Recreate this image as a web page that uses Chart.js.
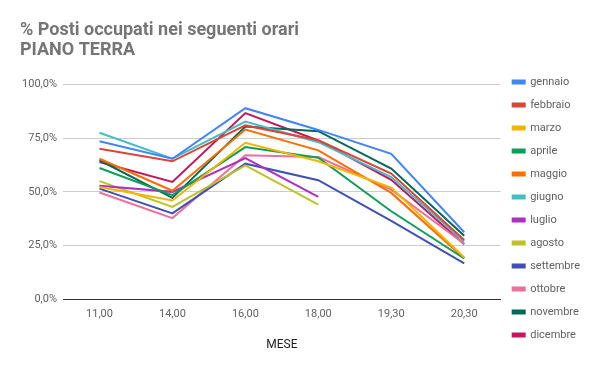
<!DOCTYPE html>
<html>
<head>
<meta charset="utf-8">
<script src="https://cdn.jsdelivr.net/npm/chart.js@4.4.1/dist/chart.umd.min.js"></script>
<style>
  html, body { margin: 0; padding: 0; background: #fff; }
  #wrap { width: 600px; height: 371px; }
</style>
</head>
<body>
<div id="wrap"><canvas id="chart" width="600" height="371"></canvas></div>
<script>
// hours on the x axis
const ORARI = ["11,00", "14,00", "16,00", "18,00", "19,30", "20,30"];
const Y_TICKS = [0, 25, 50, 75, 100];

// % occupied per month
const GENNAIO   = [73.5, 65.4, 88.9, 78.8, 67.7, 31.2];
const FEBBRAIO  = [70.0, 64.2, 80.9, 74.0, 58.5, 27.6];
const MARZO     = [52.3, 46.0, 72.8, 64.2, 52.0, 19.5];
const APRILE    = [61.1, 48.5, 70.8, 65.9, 41.0, 19.0];
const MAGGIO    = [65.4, 50.5, 79.0, 69.3, 49.5, 19.1];
const GIUGNO    = [77.5, 65.4, 82.7, 73.1, 56.9, 26.9];
const LUGLIO    = [52.8, 50.0, 65.7, 47.7, null, null];
const AGOSTO    = [55.0, 43.0, 62.3, 44.1, null, null];
const SETTEMBRE = [51.5, 40.0, 63.1, 55.4, 36.5, 16.8];
const OTTOBRE   = [49.7, 37.8, 67.0, 66.2, 51.0, 25.9];
const NOVEMBRE  = [64.7, 47.2, 80.4, 78.2, 60.8, 29.6];
const DICEMBRE  = [63.9, 54.6, 86.6, 73.9, 55.6, 25.6];

const MESI = ["gennaio", "febbraio", "marzo", "aprile", "maggio", "giugno",
              "luglio", "agosto", "settembre", "ottobre", "novembre", "dicembre"];
const SERIES = [GENNAIO, FEBBRAIO, MARZO, APRILE, MAGGIO, GIUGNO,
                LUGLIO, AGOSTO, SETTEMBRE, OTTOBRE, NOVEMBRE, DICEMBRE];
const COLORS = ["#4285f4", "#db4437", "#f4b400", "#0f9d58", "#ff6d00", "#46bdc6",
                "#ab30c4", "#c0c029", "#3f51b5", "#f06f9a", "#00695c", "#c2185b"];

const fmtPct = v => v.toFixed(1).replace(".", ",") + "%";

new Chart(document.getElementById("chart"), {
  type: "line",
  data: {
    labels: ORARI,
    datasets: MESI.map((m, i) => ({
      label: m,
      data: SERIES[i],
      borderColor: COLORS[i],
      backgroundColor: COLORS[i],
      borderWidth: 2,
      pointRadius: 0,
      tension: 0,
      spanGaps: false,
    })),
  },
  options: {
    responsive: false,
    animation: false,
    layout: { padding: { left: 20, right: 10, top: 0, bottom: 0 } },
    plugins: {
      title: {
        display: true,
        text: ["% Posti occupati nei seguenti orari", "PIANO TERRA"],
        align: "start",
        color: "#757575",
        font: { family: "Roboto", size: 18, weight: "bold", lineHeight: 1.12 },
        padding: { top: 20, bottom: 24 },
      },
      legend: {
        position: "right",
        align: "start",
        title: { display: true, text: "", font: { size: 12 }, padding: { top: 50, bottom: 0 } },
        labels: {
          boxWidth: 12,
          boxHeight: 3,
          padding: 12,
          color: "#616161",
          font: { family: "Roboto", size: 11 },
        },
      },
      tooltip: { enabled: false },
    },
    scales: {
      x: {
        offset: true,
        grid: { display: false, drawTicks: false },
        border: { display: true, color: "#333", width: 1 },
        ticks: { color: "#616161", padding: 8, font: { family: "Roboto", size: 11 } },
        title: {
          display: true,
          text: "MESE",
          color: "#222",
          font: { family: "Roboto", size: 12 },
          padding: { top: 9, bottom: 19 },
        },
      },
      y: {
        min: 0,
        max: 100,
        afterBuildTicks: s => { s.ticks = Y_TICKS.map(v => ({ value: v })); },
        afterFit: s => { s.width = 43; },
        grid: { color: "#cccccc", drawTicks: false },
        border: { display: false },
        ticks: {
          color: "#616161",
          padding: 6,
          font: { family: "Roboto", size: 11 },
          callback: v => fmtPct(v),
        },
      },
    },
  },
});
</script>
</body>
</html>
